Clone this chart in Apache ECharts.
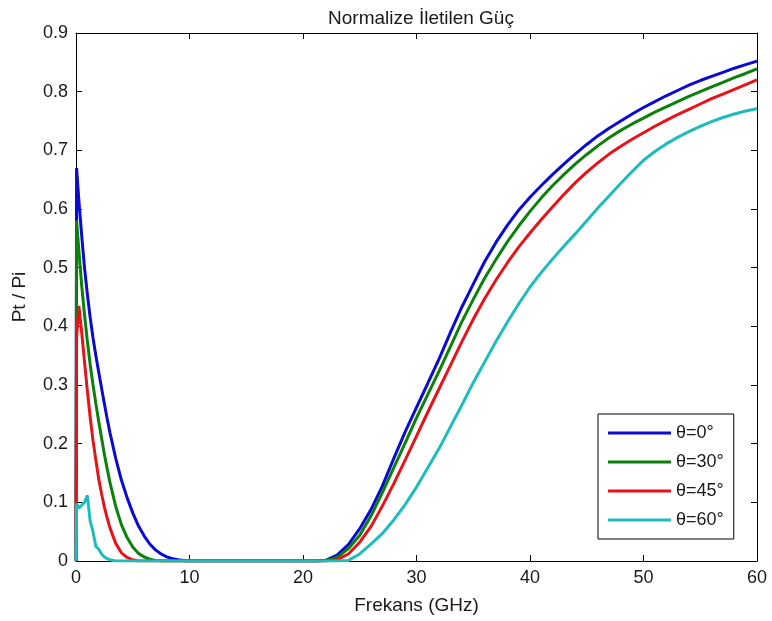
<!DOCTYPE html>
<html>
<head>
<meta charset="utf-8">
<script src="https://cdn.jsdelivr.net/npm/echarts@6/dist/echarts.min.js"></script>
<style>
html,body{margin:0;padding:0;background:#fff;}
#chart{width:772px;height:621px;}
</style>
</head>
<body>
<div id="chart"></div>
<script>
const titleText = 'Normalize İletilen Güç';
const xName = 'Frekans (GHz)';
const yName = 'Pt / Pi';
const seriesNames = ['θ=0°', 'θ=30°', 'θ=45°', 'θ=60°'];
const xTicks = [0, 10, 20, 30, 40, 50, 60];
const yTicks = [0, 0.1, 0.2, 0.3, 0.4, 0.5, 0.6, 0.7, 0.8, 0.9];

const freq = [0,0.05,0.25,0.5,0.75,1,1.25,1.5,1.75,2,2.25,2.5,2.75,3,3.5,4,4.5,5,5.5,6,6.5,7,7.5,8,8.5,9,9.5,10,
  12,14,16,18,
  20,21,22,23,24,25,26,27,28,29,30,31,32,33,34,35,36,37,38,39,40,41,42,43,44,45,46,47,48,49,50,51,52,53,54,55,56,57,58,59,60];

const theta0 = [0,0.67,0.615,0.555,0.5,0.455,0.415,0.38,0.35,0.322,0.295,0.268,0.242,0.218,0.175,0.138,0.108,0.082,0.06,0.043,0.029,0.019,0.012,0.007,0.004,0.002,0.001,0,
  0,0,0,0,
  0,0,0.001,0.01,0.028,0.055,0.088,0.128,0.175,0.22,0.262,0.303,0.345,0.39,0.433,0.472,0.51,0.543,0.572,0.598,0.62,0.64,0.659,0.677,0.694,0.71,0.725,0.738,0.75,0.762,0.773,0.783,0.793,0.802,0.811,0.819,0.826,0.833,0.84,0.846,0.852];

const theta30 = [0,0.58,0.53,0.47,0.42,0.375,0.335,0.3,0.268,0.238,0.21,0.182,0.157,0.133,0.093,0.062,0.04,0.024,0.013,0.007,0.003,0.001,0,0,0,0,0,0,
  0,0,0,0,
  0,0,0.001,0.006,0.021,0.044,0.077,0.117,0.159,0.201,0.244,0.284,0.324,0.366,0.408,0.446,0.482,0.514,0.544,0.571,0.596,0.619,0.64,0.659,0.677,0.693,0.708,0.722,0.734,0.745,0.755,0.765,0.774,0.783,0.792,0.8,0.808,0.816,0.824,0.831,0.839];

const theta45 = [0,0.38,0.435,0.39,0.34,0.29,0.245,0.205,0.172,0.14,0.115,0.092,0.073,0.056,0.03,0.014,0.006,0.002,0,0,0,0,0,0,0,0,0,0,
  0,0,0,0,
  0,0,0,0.002,0.012,0.032,0.059,0.094,0.132,0.172,0.213,0.254,0.294,0.334,0.374,0.412,0.447,0.479,0.508,0.535,0.559,0.582,0.604,0.625,0.645,0.663,0.679,0.694,0.707,0.719,0.73,0.741,0.751,0.761,0.77,0.779,0.788,0.796,0.804,0.812,0.82];

const theta60 = [0,0.098,0.09,0.095,0.1,0.112,0.068,0.05,0.025,0.02,0.012,0.007,0.004,0.002,0,0,0,0,0,0,0,0,0,0,0,0,0,0,
  0,0,0,0,
  0,0,0,0,0.001,0.012,0.029,0.047,0.07,0.096,0.126,0.159,0.192,0.229,0.266,0.304,0.339,0.374,0.407,0.438,0.467,0.492,0.515,0.537,0.558,0.58,0.602,0.623,0.644,0.664,0.683,0.698,0.711,0.722,0.732,0.741,0.749,0.756,0.762,0.767,0.771];

const colors = ['#0a0ad2', '#0b800b', '#e6141a', '#1ebcbc'];
const allValues = [theta0, theta30, theta45, theta60];

const FONT = 'Arial, "Liberation Sans", sans-serif';
const TXT = '#1a1a1a';

const chart = echarts.init(document.getElementById('chart'), null, {renderer: 'canvas'});

const axisCommon = {
  type: 'value',
  axisLine: {show: true, onZero: false, lineStyle: {color: '#000', width: 1}},
  axisTick: {show: true, inside: true, length: 6, lineStyle: {color: '#000'}},
  splitLine: {show: false}
};

const option = {
  animation: false,
  backgroundColor: '#fff',
  title: {
    text: titleText,
    left: 416,
    top: 4,
    textAlign: 'center',
    textStyle: {fontFamily: FONT, fontSize: 19, fontWeight: 'normal', color: TXT}
  },
  grid: {left: 76, right: 15, top: 33, bottom: 60, containLabel: false},
  legend: {
    orient: 'vertical',
    left: 598,
    top: 414,
    data: seriesNames,
    icon: 'rect',
    itemWidth: 63,
    itemHeight: 3,
    itemGap: 11,
    padding: [10, 10, 10, 10],
    backgroundColor: '#fff',
    borderColor: '#000',
    borderWidth: 1,
    borderRadius: 0,
    textStyle: {fontFamily: FONT, fontSize: 18, color: TXT}
  },
  xAxis: [
    Object.assign({}, axisCommon, {
      position: 'bottom', min: xTicks[0], max: xTicks[xTicks.length - 1], interval: 10,
      name: xName, nameLocation: 'middle', nameGap: 35,
      nameTextStyle: {fontFamily: FONT, fontSize: 19, color: TXT},
      axisLabel: {show: true, margin: 8, fontFamily: FONT, fontSize: 18, color: TXT}
    }),
    Object.assign({}, axisCommon, {
      position: 'top', min: xTicks[0], max: xTicks[xTicks.length - 1], interval: 10,
      axisLabel: {show: false}
    })
  ],
  yAxis: [
    Object.assign({}, axisCommon, {
      position: 'left', min: yTicks[0], max: yTicks[yTicks.length - 1], interval: 0.1,
      name: yName, nameLocation: 'middle', nameGap: 47,
      nameTextStyle: {fontFamily: FONT, fontSize: 19, color: TXT},
      axisLabel: {show: true, margin: 8, fontFamily: FONT, fontSize: 18, color: TXT,
        formatter: v => String(Math.round(v * 10) / 10)}
    }),
    Object.assign({}, axisCommon, {
      position: 'right', min: yTicks[0], max: yTicks[yTicks.length - 1], interval: 0.1,
      axisLabel: {show: false}
    })
  ],
  series: seriesNames.map((name, k) => ({
    name: name,
    type: 'line',
    xAxisIndex: 0,
    yAxisIndex: 0,
    showSymbol: false,
    symbol: 'none',
    smooth: false,
    lineStyle: {color: colors[k], width: 3},
    itemStyle: {color: colors[k]},
    data: freq.map((f, i) => [f, allValues[k][i]])
  }))
};

chart.setOption(option);
</script>
</body>
</html>
